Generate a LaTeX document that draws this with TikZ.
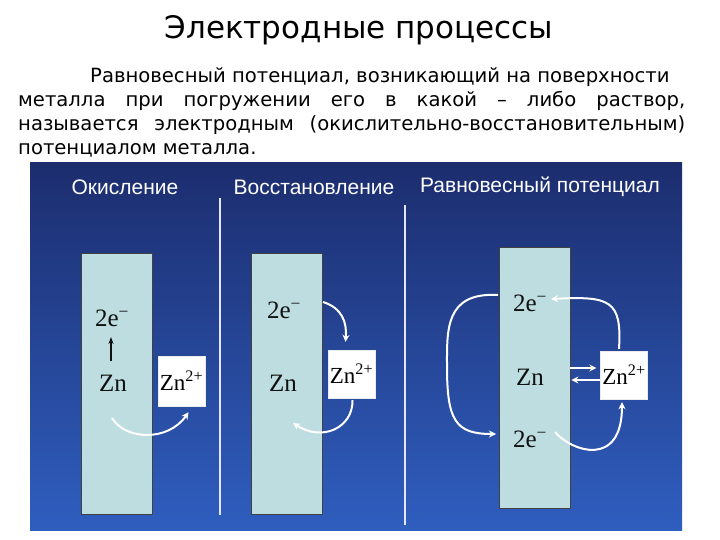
\documentclass[tikz,border=0pt]{standalone}
\usepackage{fontspec}
\setmainfont{DejaVu Sans}
\newfontfamily\headfont{Liberation Sans}
\newfontfamily\chemfont{Liberation Serif}
\usetikzlibrary{arrows.meta,calc}
\definecolor{panTop}{HTML}{1C2D6E}
\definecolor{panBot}{HTML}{2F5EBF}
\definecolor{metal}{HTML}{BDDDE1}
\definecolor{ink}{HTML}{111111}
\tikzset{
  electrode/.style={draw=ink!80,line width=0.8pt,fill=metal,minimum width=71pt,minimum height=261pt,inner sep=0pt},
  ionbox/.style={draw=white!85!gray,fill=white,minimum width=47pt,minimum height=48pt,inner sep=0pt,font=\chemfont\fontsize{23}{23}\selectfont},
  chem/.style={font=\chemfont\fontsize{25}{25}\selectfont,text=ink,inner sep=1pt},
  heading/.style={font=\headfont\fontsize{21}{21}\selectfont,text=white,inner sep=0pt},
  bodyline/.style={font=\fontsize{19.6}{19.6}\selectfont,anchor=base west,inner sep=0pt,text=black},
  warrow/.style={-{Stealth[length=7pt,width=7pt]},draw=white,line width=2pt},
  karrow/.style={-{Stealth[length=7pt,width=5pt]},draw=ink,line width=1.6pt},
  divider/.style={draw=white!90!blue,line width=1.5pt},
}
\begin{document}
\begin{tikzpicture}[x=1pt,y=-1pt]
  \useasboundingbox (0,0) rectangle (720,540);
  \fill[white] (0,0) rectangle (720,540);
  % title and text
  \node[font=\fontsize{31}{31}\selectfont,inner sep=0pt] (title) at (359,30) {Электродные процессы};
  \node[bodyline] (t1) at (90,83) {Равновесный потенциал, возникающий на поверхности};
  \node[bodyline] (t2) at (18,107) {\makebox[667pt][s]{металла при погружении его в какой – либо раствор,}};
  \node[bodyline] (t3) at (18,131) {\makebox[667pt][s]{называется электродным (окислительно-восстановительным)}};
  \node[bodyline] (t4) at (18,155) {потенциалом металла.};
  % blue panel
  \shade[top color=panTop,bottom color=panBot] (30,163) rectangle (682,530);
  \node[heading] (h1) at (125,187) {Окисление};
  \node[heading] (h2) at (314,187) {Восстановление};
  \node[heading] (h3) at (540,187) {Равновесный потенциал};
  \coordinate (d1a) at (220,198); \coordinate (d1b) at (220,515);
  \coordinate (d2a) at (405,205); \coordinate (d2b) at (405,525);
  \draw[divider] (d1a) -- (d1b);
  \draw[divider] (d2a) -- (d2b);
  % oxidation
  \node[electrode] (el1) at (116.5,383.5) {};
  \node[chem] (e1) at (112,318) {2e\textsuperscript{−}};
  \node[chem] (zn1) at (113,383) {Zn};
  \node[ionbox,minimum height=50pt] (ion1) at (181.5,381) {Zn\textsuperscript{2+}};
  \draw[karrow] ($(zn1)+(-2,-22)$) -- ($(e1)+(-1,19)$);
  \coordinate (o1) at (112,418);
  \draw[warrow] (o1) .. controls (125,440) and (168,442) .. ($(ion1.south)+(7,6)$);
  % reduction
  \node[electrode] (el2) at (286.5,383.5) {};
  \node[chem] (e2) at (284,310) {2e\textsuperscript{−}};
  \node[chem] (zn2) at (283,383) {Zn};
  \node[ionbox] (ion2) at (351.5,374) {Zn\textsuperscript{2+}};
  \coordinate (r1) at (323,302);
  \draw[warrow] (r1) .. controls (342,308) and (347,322) .. ($(ion2.north)+(-6,-8)$);
  \coordinate (r2) at (293,423);
  \draw[warrow] ($(ion2.south)+(1,2)$) .. controls (353,428) and (322,442) .. (r2);
  % equilibrium
  \node[electrode] (el3) at (534.5,377.5) {};
  \node[chem] (e3a) at (530,303) {2e\textsuperscript{−}};
  \node[chem] (zn3) at (530,377) {Zn};
  \node[chem] (e3b) at (530,439) {2e\textsuperscript{−}};
  \node[ionbox] (ion3) at (624,375) {Zn\textsuperscript{2+}};
  \coordinate (q1) at (498,295);
  \coordinate (q2) at (496,434);
  \draw[warrow] (q1) .. controls (445,292) and (447,330) .. (447,366)
    .. controls (447,420) and (455,434) .. (q2);
  \coordinate (q3) at (551,299);
  \draw[warrow] ($(ion3.north)+(-5,-2)$) .. controls (622,300) and (610,296) .. (q3);
  \coordinate (q4) at (555,432);
  \draw[warrow] (q4) .. controls (572,452) and (622,468) .. ($(ion3.south)+(-2,3)$);
  \draw[warrow,line width=1.6pt] ($(el3.east|-zn3)+(0,-9)$) -- ($(ion3.west|-zn3)+(-4,-9)$);
  \draw[warrow,line width=1.6pt] ($(ion3.west|-zn3)+(0,3)$) -- ($(el3.east|-zn3)+(1,3)$);
\end{tikzpicture}
\end{document}
